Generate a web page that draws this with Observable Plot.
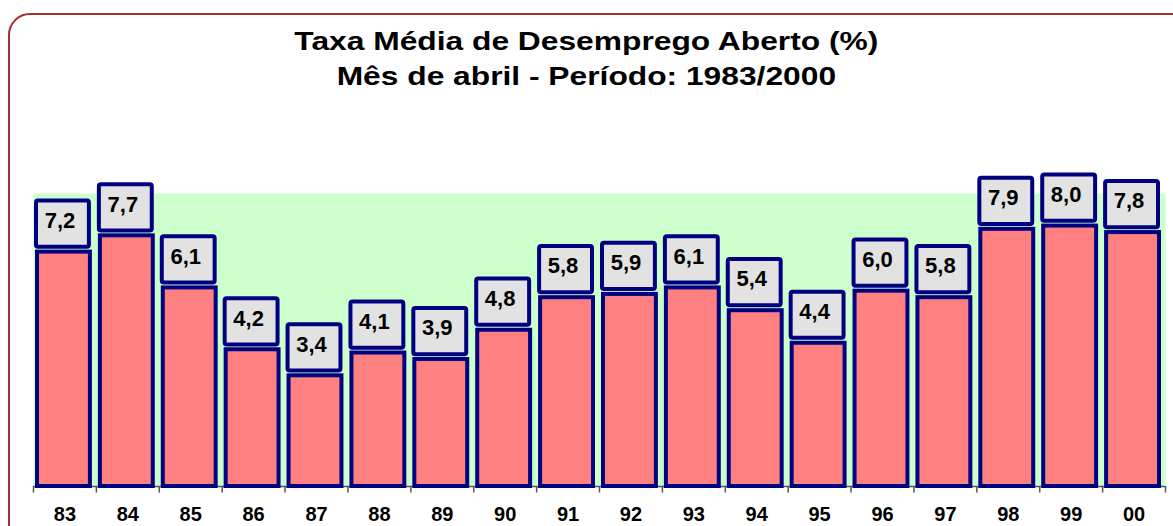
<!DOCTYPE html>
<html><head><meta charset="utf-8">
<script src="https://cdn.jsdelivr.net/npm/d3@7"></script>
<script src="https://cdn.jsdelivr.net/npm/@observablehq/plot@0.6"></script>
<style>
html,body{margin:0;padding:0;background:#fff;}
#wrap{position:relative;width:1173px;height:526px;overflow:hidden;font-family:"Liberation Sans",Arial,sans-serif;}
#border{position:absolute;left:8px;top:13px;width:1190px;height:540px;border:2px solid #a03030;border-radius:22px;box-sizing:border-box;}
#title{position:absolute;left:0;top:24px;width:1173px;text-align:center;font-weight:bold;font-size:25px;line-height:35px;color:#000;transform:scaleX(1.27);transform-origin:587px 0;}
#chart{position:absolute;left:0;top:0;}
</style></head>
<body>
<div id="wrap">
<div id="border"></div>
<div id="title">Taxa Média de Desemprego Aberto (%)<br>Mês de abril - Período: 1983/2000</div>
<div id="chart"></div>
</div>
<script>
const years = ["83","84","85","86","87","88","89","90","91","92","93","94","95","96","97","98","99","00"];
const rates = [7.2,7.7,6.1,4.2,3.4,4.1,3.9,4.8,5.8,5.9,6.1,5.4,4.4,6.0,5.8,7.9,8.0,7.8];

const data = years.map((y,i)=>({year:y, v:rates[i]}));
const fmt = v => v.toFixed(1).replace(".", ",");
const bw = (1165-33)/years.length;

const plot = Plot.plot({
  width:1173, height:526,
  marginTop:193, marginBottom:40, marginLeft:33, marginRight:8,
  style:{fontFamily:"Liberation Sans, Arial, sans-serif", background:"transparent", overflow:"visible"},
  x:{domain:years, padding:0, round:false, label:null},
  y:{domain:[0,9], axis:null},
  marks:[
    Plot.frame({fill:"#ccffcc", stroke:null}),
    Plot.ruleY([0],{stroke:"#555", strokeWidth:1.5}),
    Plot.barY(data,{x:"year", y:"v", fill:"#ff8080", stroke:"#000080", strokeWidth:4, insetLeft:4, insetRight:6}),
    Plot.barY(data,{x:"year", y1:d=>d.v+0.15, y2:d=>d.v+1.57, fill:"#e2e2e2", stroke:"#000080", strokeWidth:4, insetLeft:3, insetRight:7, rx:2}),
    Plot.text(data,{x:"year", y:d=>d.v+0.96, text:d=>fmt(d.v), dx:-5, fontSize:22, fontWeight:"bold", fill:"#000"}),
    Plot.ruleX(years,{x:d=>d, dx:-bw/2, y1:0, y2:-0.2, stroke:"#555", strokeWidth:1.5}),
    Plot.ruleX([years[years.length-1]],{x:d=>d, dx:bw/2, y1:0, y2:-0.2, stroke:"#555", strokeWidth:1.5}),
    Plot.axisX({tickSize:0, tickPadding:20, fontSize:20, fontWeight:"bold", label:null, fill:"#000"})
  ]
});
document.getElementById("chart").appendChild(plot);
</script>
</body></html>
